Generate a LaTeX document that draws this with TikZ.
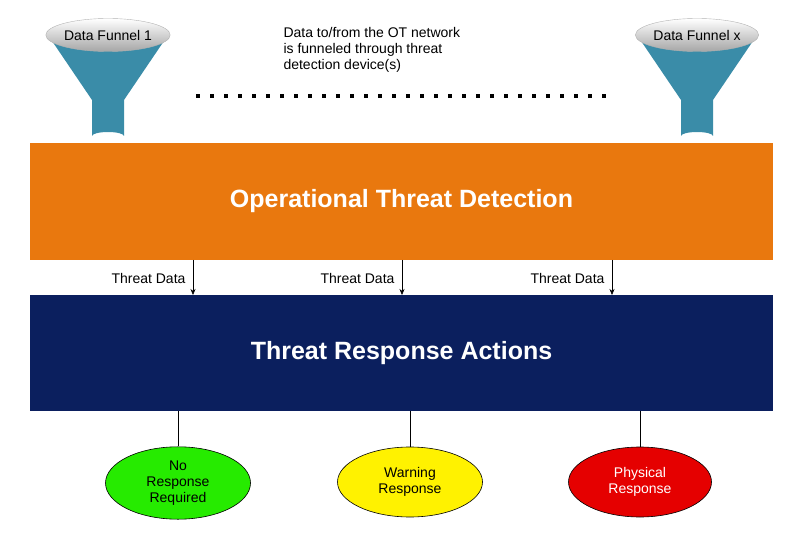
\documentclass[tikz,border=0pt]{standalone}
\usepackage{fontspec}
\setmainfont{Liberation Sans}
\usetikzlibrary{shapes.geometric,arrows.meta}
\definecolor{org}{HTML}{E9780E}
\definecolor{navy}{HTML}{0B1F5E}
\definecolor{teal}{HTML}{3A8CA8}
\begin{document}
\begin{tikzpicture}[x=1pt,y=-1pt,
 lbl/.style={font=\fontsize{14}{16}\selectfont},
 bar/.style={draw=none,minimum width=743pt,text=white,font=\fontsize{25}{28}\selectfont\bfseries},
 resp/.style={ellipse,draw=black,line width=0.6pt,minimum width=145pt,minimum height=70pt,align=center,font=\fontsize{14}{16}\selectfont},
 arr/.style={-{Stealth[length=6pt,width=5pt]},line width=0.6pt}]
\useasboundingbox (0,0) rectangle (800,537);
% funnels
\foreach \cx/\nm/\t in {108/f1/Data Funnel 1,697/fx/Data Funnel x}{
 \fill[teal] (\cx-58,38) -- (\cx+58,38) -- (\cx+16,100) -- (\cx+16,136) arc[start angle=0,end angle=180,x radius=16,y radius=-4] -- (\cx-16,100) -- cycle;
 \node[ellipse,minimum width=118pt,minimum height=33pt,inner sep=0pt,top color=white,bottom color=gray!70,draw=gray!60,lbl] (\nm) at (\cx,35) {\t};
}
\node[lbl,align=left,anchor=north west] (txt) at (280,24) {Data to/from the OT network\\is funneled through threat\\detection device(s)};
\coordinate (d1) at (196,96); \coordinate (d2) at (612,96);
\draw[line width=4pt,dash pattern=on 4pt off 10pt] (d1) -- (d2);
\node[bar,fill=org,minimum height=117pt] (otd) at (401.5,201.5) {Operational Threat Detection};
\node[bar,fill=navy,minimum height=116pt] (tra) at (401.5,353) {Threat Response Actions};
\foreach \x [count=\i] in {193,402,612}{
 \draw[arr] (\x,260) -- (\x,295);
 \node[lbl,anchor=east] (td\i) at (\x-4,278) {Threat Data};
}
\node[resp,fill=green!90!black!80!lime] (r1) at (178,483) {No\\Response\\Required};
\node[resp,fill=yellow] (r2) at (410,482) {Warning\\Response};
\node[resp,fill=red!90!black,text=white,minimum width=143pt] (r3) at (640,482) {Physical\\Response};
\foreach \x/\n in {178/r1,410/r2,640/r3} \draw[line width=0.6pt] (\x,411) -- (\n.north);
\end{tikzpicture}
\end{document}
